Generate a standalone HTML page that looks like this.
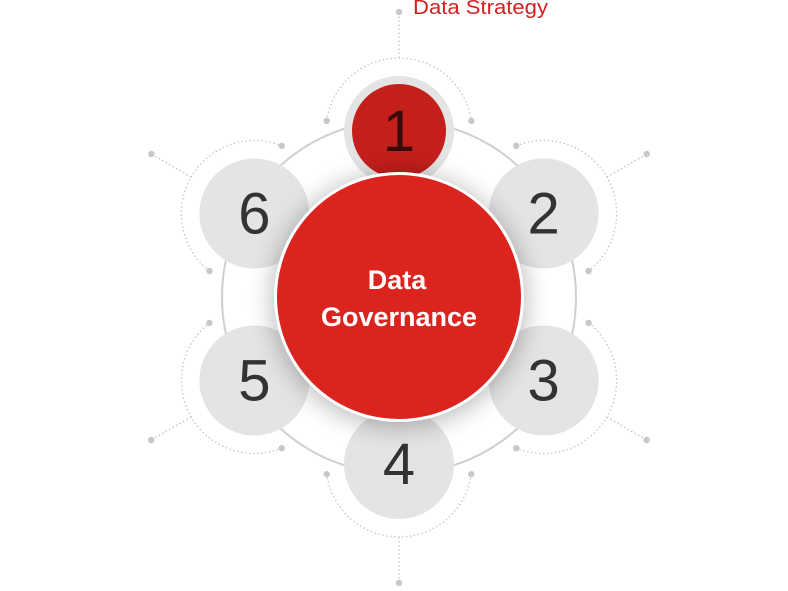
<!DOCTYPE html>
<html><head><meta charset="utf-8"><style>
html,body{margin:0;padding:0;background:#fff;width:788px;height:591px;overflow:hidden}
</style></head><body>
<svg width="788" height="591" viewBox="0 0 788 591" xmlns="http://www.w3.org/2000/svg" font-family="Liberation Sans, sans-serif">
<defs>
<filter id="sh" x="-50%" y="-50%" width="200%" height="200%"><feGaussianBlur stdDeviation="12"/></filter>
</defs>
<circle cx="399" cy="297" r="177" fill="none" stroke="#cfcfcf" stroke-width="2"/>
<g id="arcs" fill="none" stroke="#c4c4c4" stroke-width="1.3" stroke-dasharray="1.5 2.5"></g>
<g id="dots" fill="#c8c8c8"></g>
<g id="nodes"></g>
<circle cx="399" cy="300" r="128" fill="#000" opacity="0.25" filter="url(#sh)"/>
<circle cx="399" cy="297" r="125" fill="#fff"/>
<circle cx="399" cy="297" r="122" fill="#dc241f"/>
<text x="397" y="289" text-anchor="middle" fill="#fff" font-size="27" font-weight="bold">Data</text>
<text x="399" y="326" text-anchor="middle" fill="#fff" font-size="27" font-weight="bold">Governance</text>
<text x="413" y="14" fill="#d42020" font-size="20" textLength="135" lengthAdjust="spacingAndGlyphs">Data Strategy</text>
</svg>
<script>
var NS="http://www.w3.org/2000/svg",cx=399,cy=297,R=167;
var arcs=document.getElementById('arcs'),dots=document.getElementById('dots'),nodes=document.getElementById('nodes');
function el(p,t,a){var e=document.createElementNS(NS,t);for(var k in a)e.setAttribute(k,a[k]);p.appendChild(e);return e;}
for(var i=0;i<6;i++){
 var th=(-90+60*i)*Math.PI/180;
 var nx=cx+R*Math.cos(th),ny=cy+R*Math.sin(th)+(i==0?1:0);
 var r=73,s=82*Math.PI/180;
 var a1=th-s,a2=th+s;
 var x1=nx+r*Math.cos(a1),y1=ny+r*Math.sin(a1),x2=nx+r*Math.cos(a2),y2=ny+r*Math.sin(a2);
 el(arcs,'path',{d:'M'+x1+' '+y1+' A'+r+' '+r+' 0 0 1 '+x2+' '+y2});
 var ox=nx+r*Math.cos(th),oy=ny+r*Math.sin(th),dx=nx+119*Math.cos(th),dy=ny+119*Math.sin(th);
 el(arcs,'line',{x1:ox,y1:oy,x2:dx,y2:dy});
 el(dots,'circle',{cx:x1,cy:y1,r:3.2});el(dots,'circle',{cx:x2,cy:y2,r:3.2});el(dots,'circle',{cx:dx,cy:dy,r:3.2});
 el(nodes,'circle',{cx:nx,cy:ny,r:55,fill:'#e4e4e4'});
 if(i==0){
  el(nodes,'circle',{cx:nx,cy:ny,r:47,fill:'#c41f1b'});
  el(nodes,'text',{x:nx,y:ny+20,'text-anchor':'middle','font-size':58,fill:'#3a0a08'}).textContent='1';
 }else{
  el(nodes,'text',{x:nx,y:ny+20,'text-anchor':'middle','font-size':58,fill:'#333'}).textContent=String(i+1);
 }
}
</script>
</body></html>
